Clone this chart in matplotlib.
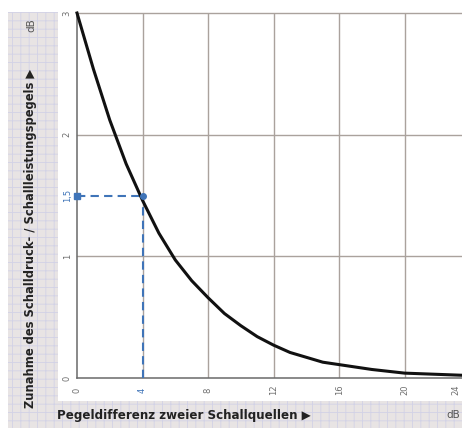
import matplotlib
matplotlib.use("Agg")
import matplotlib.pyplot as plt
from matplotlib.patches import Rectangle

# Data
level_diff = [0, 1, 2, 3, 4, 5, 6, 7, 8, 9, 10, 11, 12, 13, 14, 15, 16, 18, 20, 22, 24]
increase = [3.0, 2.54, 2.12, 1.76, 1.46, 1.19, 0.97, 0.80, 0.66, 0.53, 0.43, 0.34,
            0.27, 0.21, 0.17, 0.13, 0.11, 0.07, 0.04, 0.03, 0.02]
x_ticks = [0, 4, 8, 12, 16, 20, 24]
x_tick_labels = ["0", "4", "8", "12", "16", "20", "24"]
y_ticks = [0, 1, 2, 3]
y_tick_labels = ["0", "1", "2", "3"]
mark_x = 4
mark_y = 1.5
mark_x_label = "4"
mark_y_label = "1,5"
xlabel = "Pegeldifferenz zweier Schallquellen \u25B6"
ylabel = "Zunahme des Schalldruck- / Schallleistungspegels \u25B6"
unit = "dB"

plt.rcParams["hatch.linewidth"] = 0.6

W, H = 462, 432
fig = plt.figure(figsize=(W / 100, H / 100), dpi=100)
fig.patch.set_facecolor("white")

# label strips
strip_col = "#e8e4e4"
hatch_col = "#d2d2e6"
fig.patches.append(Rectangle((8 / W, 1 - 402 / H), 50 / W, 390 / H, transform=fig.transFigure,
                             facecolor=strip_col, edgecolor=hatch_col, hatch="++", lw=0, zorder=0))
fig.patches.append(Rectangle((8 / W, 1 - 428 / H), (W - 8) / W, 27 / H, transform=fig.transFigure,
                             facecolor=strip_col, edgecolor=hatch_col, hatch="++", lw=0, zorder=0))

XMAX = 23.5
ax = fig.add_axes([77 / W, 1 - 378 / H, (W - 77) / W, (378 - 13) / H])
ax.set_xlim(0, XMAX)
ax.set_ylim(0, 3)
ax.set_facecolor("white")

grid_col = "#aaa29d"
for xv in x_ticks[1:]:
    ax.axvline(xv, color=grid_col, lw=1.0, zorder=1)
for yv in y_ticks[1:]:
    ax.axhline(yv, color=grid_col, lw=1.0, zorder=1, clip_on=False)

for s in ["top", "right"]:
    ax.spines[s].set_visible(False)
for s in ["left", "bottom"]:
    ax.spines[s].set_color("#6a6a6a")
    ax.spines[s].set_linestyle((0, (2, 1)))
    ax.spines[s].set_linewidth(1.1)

ax.set_xticks([])
ax.set_yticks([])

ax.plot(level_diff, increase, color="#111111", lw=2.2, zorder=4, clip_on=False)

blue = "#3f74b8"
ax.plot([0, mark_x], [mark_y, mark_y], color=blue, lw=1.5, ls=(0, (4, 2.5)), zorder=3)
ax.plot([mark_x, mark_x], [0, mark_y], color=blue, lw=1.5, ls=(0, (4, 2.5)), zorder=3)
ax.plot([0], [mark_y], marker="s", ms=4, color=blue, zorder=5, clip_on=False)
ax.plot([mark_x], [mark_y], marker="o", ms=4, color=blue, zorder=5)

tick_col = "#6e6e6e"
for xv, lab in zip(x_ticks, x_tick_labels):
    if xv == mark_x:
        continue
    pos = min(xv, XMAX - 0.35)
    ax.text(pos, -0.1, lab, rotation=90, ha="center", va="center", fontsize=6,
            color=tick_col, clip_on=False)
for yv, lab in zip(y_ticks, y_tick_labels):
    ax.text(-0.6, yv, lab, rotation=90, ha="center", va="center", fontsize=6,
            color=tick_col, clip_on=False)
ax.text(mark_x, -0.1, mark_x_label, rotation=90, ha="center", va="center", fontsize=6,
        color=blue, clip_on=False)
ax.text(-0.6, mark_y, mark_y_label, rotation=90, ha="center", va="center", fontsize=6,
        color=blue, clip_on=False)

fig.text(57 / W, 1 - 415 / H, xlabel, ha="left", va="center", fontsize=8.6,
         fontweight="bold", color="#222222")
fig.text(446 / W, 1 - 415 / H, unit, ha="left", va="center", fontsize=7.5,
         color="#555555")
fig.text(31 / W, 1 - 408 / H, ylabel, ha="center", va="bottom", rotation=90, fontsize=8.3,
         fontweight="bold", color="#222222")
fig.text(31 / W, 1 - 25 / H, unit, ha="center", va="center", rotation=90, fontsize=7.5,
         color="#555555")

fig.savefig("out.png", dpi=100, facecolor="white")
